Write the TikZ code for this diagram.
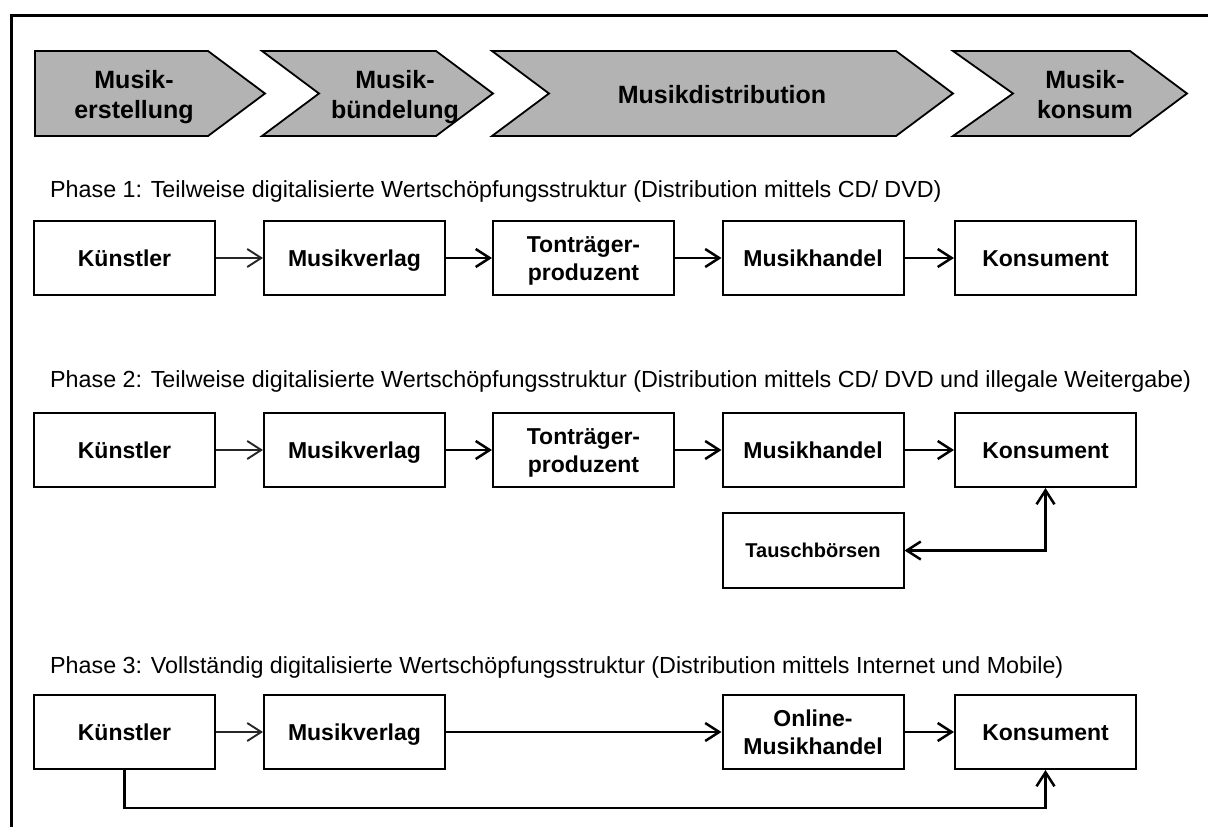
\documentclass[tikz,border=0pt]{standalone}
\usepackage{fontspec}
\setmainfont{Liberation Sans}
\usetikzlibrary{arrows.meta,calc}
\definecolor{chevgray}{RGB}{179,179,179}
\newcommand{\twoline}[2]{\begin{tabular}[t]{@{}c@{}}#1\\#2\end{tabular}}
\begin{document}
\begin{tikzpicture}[x=1pt,y=-1pt,
  chev/.style={fill=chevgray,draw=black,line width=1.8pt,line join=miter},
  chevtext/.style={font=\bfseries\fontsize{25}{30}\selectfont,inner sep=0pt,text height=17.9pt,text depth=0pt},
  chevtwo/.style={chevtext,text depth=30pt},
  stepbox/.style={draw=black,line width=2pt,fill=white,minimum width=181pt,minimum height=74pt,inner sep=0pt,font=\bfseries\fontsize{23}{27.6}\selectfont,text height=16.5pt,text depth=0pt},
  steptwo/.style={stepbox,text depth=27.6pt},
  smallbox/.style={stepbox,font=\bfseries\fontsize{20}{24}\selectfont,minimum height=75pt,text height=14.3pt},
  phasetext/.style={anchor=base west,inner sep=0pt,font=\fontsize{23.3}{27}\selectfont},
  conn/.style={line width=2.5pt,-{Straight Barb[length=14pt,width=18pt]}},
  biconn/.style={line width=2.5pt,{Straight Barb[length=14pt,width=18pt]}-{Straight Barb[length=14pt,width=18pt]}},
  thinconn/.style={line width=2pt,draw=black!85,-{Straight Barb[length=14pt,width=18pt,line width=1.9pt]}}
]
\useasboundingbox (0,0) rectangle (1208,827);
\clip (0,0) rectangle (1208,827);
\fill[white] (0,0) rectangle (1208,827);
% frame
\draw[line width=2.5pt] (11.5,840) -- (11.5,15.5) -- (1220,15.5);

% chevrons
\draw[chev] (35,51) -- (208,51) -- (265,93.5) -- (208,136) -- (35,136) -- cycle;
\draw[chev] (262,51) -- (436,51) -- (493,93.5) -- (436,136) -- (262,136) -- (319,93.5) -- cycle;
\draw[chev] (492,51) -- (896,51) -- (953,93.5) -- (896,136) -- (492,136) -- (549,93.5) -- cycle;
\draw[chev] (953,51) -- (1130,51) -- (1187,93.5) -- (1130,136) -- (953,136) -- (1013,93.5) -- cycle;
\node[chevtwo] (t1) at (134,95) {\twoline{Musik-}{erstellung}};
\node[chevtwo] (t2) at (395,95) {\twoline{Musik-}{bündelung}};
\node[chevtext] (t3) at (722,95) {Musikdistribution};
\node[chevtwo] (t4) at (1085,95) {\twoline{Musik-}{konsum}};

% phase texts
\node[phasetext] (p1) at (50,197) {Phase 1: Teilweise digitalisierte Wertschöpfungsstruktur (Distribution mittels CD/ DVD)};
\node[phasetext] (p2) at (50,387) {Phase 2: Teilweise digitalisierte Wertschöpfungsstruktur (Distribution mittels CD/ DVD und illegale Weitergabe)};
\node[phasetext] (p3) at (50,673) {Phase 3: Vollständig digitalisierte Wertschöpfungsstruktur (Distribution mittels Internet und Mobile)};

% row 1
\node[stepbox] (a1) at (124.5,258) {Künstler};
\node[stepbox] (a2) at (354.5,258) {Musikverlag};
\node[steptwo] (a3) at (583.5,258) {\twoline{Tonträger-}{produzent}};
\node[stepbox] (a4) at (813,258) {Musikhandel};
\node[stepbox] (a5) at (1045.5,258) {Konsument};
\draw[thinconn] (a1) -- (a2);
\draw[conn] (a2) -- (a3);
\draw[conn] (a3) -- (a4);
\draw[conn] (a4) -- (a5);

% row 2
\node[stepbox] (b1) at (124.5,450) {Künstler};
\node[stepbox] (b2) at (354.5,450) {Musikverlag};
\node[steptwo] (b3) at (583.5,450) {\twoline{Tonträger-}{produzent}};
\node[stepbox] (b4) at (813,450) {Musikhandel};
\node[stepbox] (b5) at (1045.5,450) {Konsument};
\node[smallbox] (tb) at (813,550.5) {Tauschbörsen};
\draw[thinconn] (b1) -- (b2);
\draw[conn] (b2) -- (b3);
\draw[conn] (b3) -- (b4);
\draw[conn] (b4) -- (b5);
\draw[biconn] (b5.south) |- (tb.east);

% row 3
\node[stepbox] (c1) at (124.5,732) {Künstler};
\node[stepbox] (c2) at (354.5,732) {Musikverlag};
\node[steptwo] (c4) at (813,732) {\twoline{Online-}{Musikhandel}};
\node[stepbox] (c5) at (1045.5,732) {Konsument};
\coordinate (low) at (0,808);
\draw[thinconn] (c1) -- (c2);
\draw[conn] (c2) -- (c4);
\draw[conn] (c4) -- (c5);
\draw[conn] (c1.south) -- (c1.south |- low) -| (c5.south);
\end{tikzpicture}
\end{document}
